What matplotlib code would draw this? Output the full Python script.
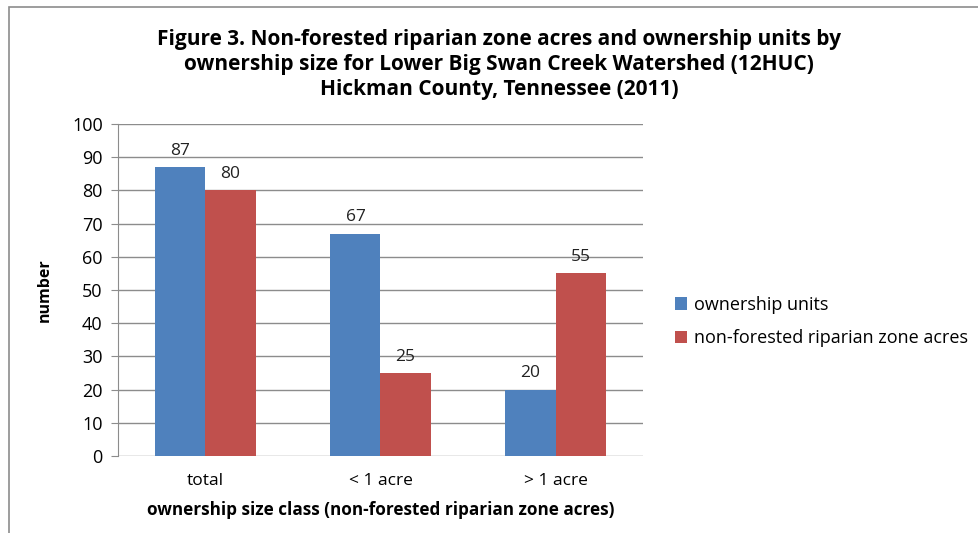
import matplotlib.pyplot as plt
import numpy as np
from matplotlib.patches import Rectangle

categories = ["total", "< 1 acre", "> 1 acre"]
ownership_units = [87, 67, 20]
riparian_acres = [80, 25, 55]
series_names = ["ownership units", "non-forested riparian zone acres"]

plt.rcParams['font.family'] = ['Open Sans', 'DejaVu Sans']

fig = plt.figure(figsize=(9.79, 5.33), dpi=100)
ax = fig.add_axes([0.1205, 0.1445, 0.5363, 0.623])

# outer chart frame
fig.patches.append(Rectangle((9/979, -0.01), 1.0, 1 - 7/533 + 0.01, transform=fig.transFigure,
                             fill=False, edgecolor="#8c8c8c", linewidth=1.2))

x = np.arange(len(categories))
w = 0.286
b1 = ax.bar(x - w/2, ownership_units, w, color="#4f81bd", label=series_names[0], zorder=3)
b2 = ax.bar(x + w/2, riparian_acres, w, color="#c0504d", label=series_names[1], zorder=3)

for bars in (b1, b2):
    for r in bars:
        ax.text(r.get_x() + r.get_width()/2, r.get_height() + 2.5, f"{r.get_height():.0f}",
                ha="center", va="bottom", fontsize=12.5, color="#222222")

ax.set_xlim(-0.5, 2.5)
ax.set_ylim(0, 100)
ax.set_yticks(range(0, 101, 10))
ax.set_xticks(x)
ax.set_xticklabels(categories)
ax.yaxis.grid(True, color="#8c8c8c", linewidth=1, zorder=0)
for s in ["top", "right", "bottom"]:
    ax.spines[s].set_visible(False)
ax.spines["left"].set_color("#8c8c8c")
ax.tick_params(axis="y", length=5, color="#8c8c8c", labelsize=13, pad=6)
ax.tick_params(axis="x", length=0, labelsize=12.5, pad=12)

ax.set_ylabel("number", fontsize=11.5, fontweight="bold", labelpad=14)
ax.set_xlabel("ownership size class (non-forested riparian zone acres)", fontsize=12.3,
              fontweight="bold", labelpad=9)

fig.text(0.51, 0.946, "Figure 3. Non-forested riparian zone acres and ownership units by\n"
         "ownership size for Lower Big Swan Creek Watershed (12HUC)\n"
         "Hickman County, Tennessee (2011)",
         ha="center", va="top", fontsize=15, fontweight="bold", linespacing=1.25)

ax.legend(loc="center left", bbox_to_anchor=(1.03, 0.405), frameon=False, fontsize=13,
          handlelength=0.65, handleheight=0.65, handletextpad=0.4, labelspacing=0.85)

fig.savefig("out.png", dpi=100)
